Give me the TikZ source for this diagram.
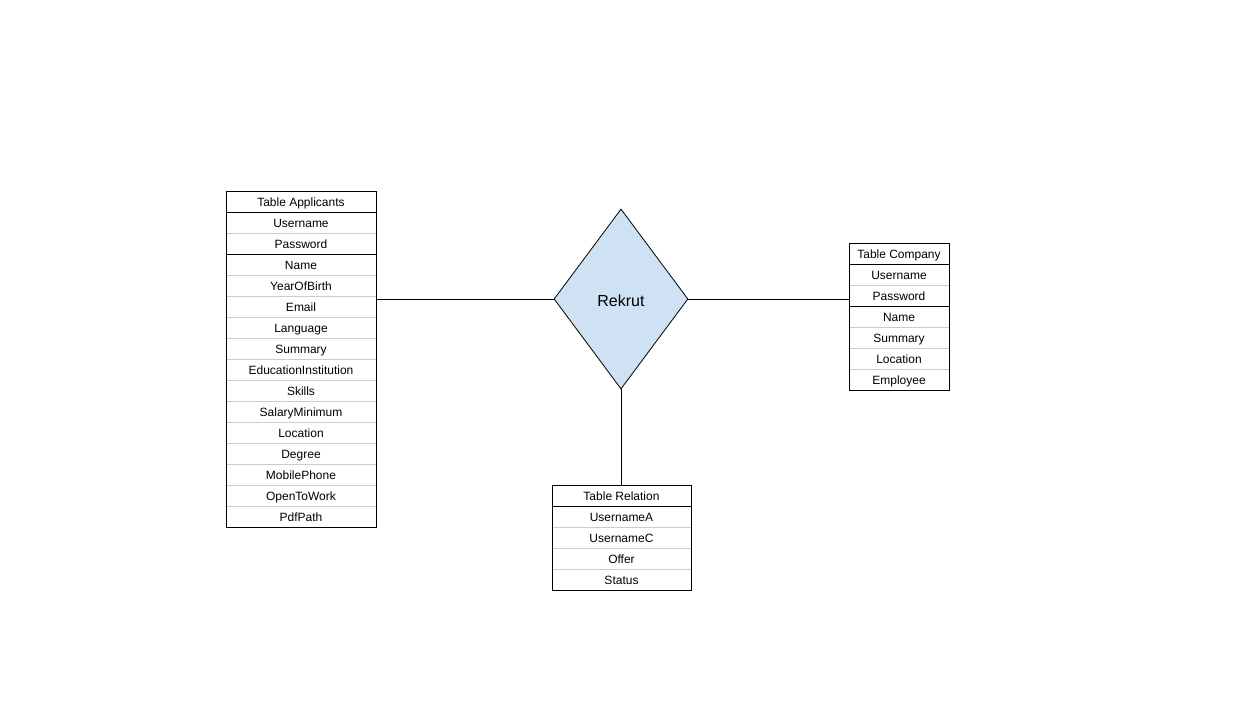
\documentclass[tikz,border=0pt]{standalone}
\usepackage{fontspec}
\setmainfont{Liberation Sans}
\usepackage{xcolor}
\usepackage{tikz}
\usetikzlibrary{positioning, shapes.geometric, calc}
\definecolor{relfill}{HTML}{CFE2F3}
\definecolor{rowline}{HTML}{CCCCCC}

\begin{document}
\begin{tikzpicture}[
    x=1pt, y=-1pt,
    line width=0.8pt,
    every node/.style={font=\fontsize{12}{14}\selectfont},
    field/.style={rectangle, draw=rowline, inner sep=0pt, outer sep=0pt, minimum height=21pt, text height=10pt, text depth=0pt, align=center},
    relation/.style={diamond, draw=black, fill=relfill, inner sep=0pt, minimum width=134pt, minimum height=180pt, text height=14pt, text depth=0pt, font=\fontsize{16}{19}\selectfont},
    node distance=0pt % rows sit right under each other
]
\useasboundingbox (0,0) rectangle (1243,704);

% Relation in the middle
\node[relation] (rk) at (621,299) {Rekrut};

% Table Applicants
\node[field, minimum width=150pt] (app0) at (301,201.5) {Table Applicants};
\foreach \t [count=\i, remember=\i as \j (initially 0)] in {Username, Password, Name, YearOfBirth, Email, Language, Summary, EducationInstitution, Skills, SalaryMinimum, Location, Degree, MobilePhone, OpenToWork, PdfPath}
    \node[field, minimum width=150pt, below=of app\j] (app\i) {\t};
\draw (app0.north west) rectangle (app15.south east);
\draw (app0.south west) -- (app0.south east);
\draw (app2.south west) -- (app2.south east);

% Table Company
\node[field, minimum width=100pt] (cmp0) at (899,253.5) {Table Company};
\foreach \t [count=\i, remember=\i as \j (initially 0)] in {Username, Password, Name, Summary, Location, Employee}
    \node[field, minimum width=100pt, below=of cmp\j] (cmp\i) {\t};
\draw (cmp0.north west) rectangle (cmp6.south east);
\draw (cmp0.south west) -- (cmp0.south east);
\draw (cmp2.south west) -- (cmp2.south east);

% Table Relation
\node[field, minimum width=139pt] (rel0) at (621.5,495.5) {Table Relation};
\foreach \t [count=\i, remember=\i as \j (initially 0)] in {UsernameA, UsernameC, Offer, Status}
    \node[field, minimum width=139pt, below=of rel\j] (rel\i) {\t};
\draw (rel0.north west) rectangle (rel4.south east);
\draw (rel0.south west) -- (rel0.south east);

% Connectors
\draw (rk.west) -- (rk.west -| app5.east);
\draw (rk.east) -- (rk.east -| cmp2.west);
\draw (rk.south) -- (rk.south |- rel0.north);

\end{tikzpicture}
\end{document}
